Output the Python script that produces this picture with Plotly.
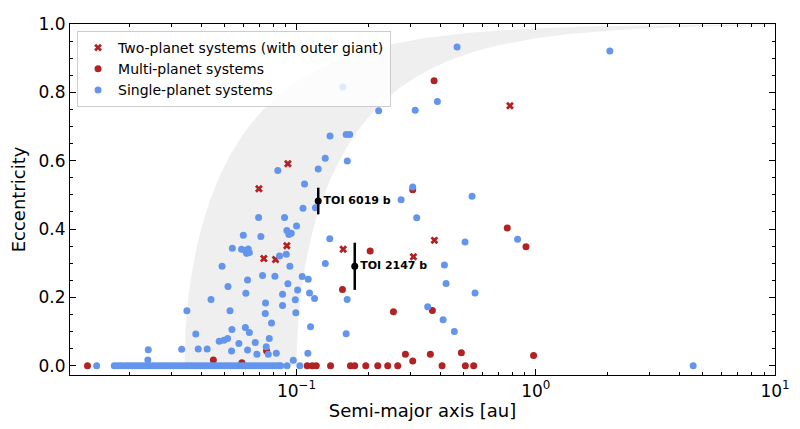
import plotly.graph_objects as go

# single-planet systems (blue dots)
single_a = [0.0146, 0.0173, 0.0178, 0.0183, 0.0188, 0.0194, 0.0199, 0.0205, 0.0211, 0.0217,
            0.0223, 0.0229, 0.0236, 0.0243, 0.0250, 0.0257, 0.0265, 0.0273, 0.0281, 0.0289,
            0.0297, 0.0306, 0.0315, 0.0324, 0.0334, 0.0344, 0.0354, 0.0364, 0.0375, 0.0386,
            0.0397, 0.0409, 0.0421, 0.0433, 0.0446, 0.0459, 0.0472, 0.0486, 0.0500, 0.0515,
            0.0530, 0.0546, 0.0562, 0.0578, 0.0595, 0.0612, 0.0630, 0.0649, 0.0668, 0.0688,
            0.0708, 0.0729, 0.0750, 0.0772, 0.0795, 0.0818, 0.0842, 0.0858, 0.0913, 0.1032, 4.55,
            0.0240, 0.0239, 0.0331, 0.0348, 0.0379, 0.0388, 0.0423, 0.0439, 0.0475, 0.0497,
            0.0515, 0.0488, 0.0517, 0.0527, 0.0537, 0.0535, 0.0539, 0.0574, 0.0589, 0.0611,
            0.0628, 0.0618, 0.0635, 0.0599, 0.0611, 0.0635, 0.0614, 0.0624, 0.0624, 0.0672,
            0.0683, 0.0694, 0.0709, 0.0721, 0.0742, 0.0740, 0.0747, 0.0762, 0.0769, 0.0786,
            0.0812, 0.0823, 0.0835, 0.0849, 0.0874, 0.0874, 0.0891, 0.0906, 0.0911, 0.0929,
            0.0950, 0.0920, 0.0938, 0.0969, 0.0988, 0.0993, 0.1000, 0.1010, 0.1056, 0.1064,
            0.1080, 0.1115, 0.1119, 0.1133, 0.1144, 0.1189, 0.1200, 0.1232, 0.1318, 0.1319,
            0.1377, 0.1380, 0.1612, 0.1668, 0.1630, 0.1628, 0.1612, 0.2204, 0.1561, 0.2736,
            0.3059, 0.3133, 0.3179, 0.3533, 0.3879, 0.4098, 0.4150, 0.4218, 0.4567, 0.4688,
            0.5063, 0.5415, 0.5573, 0.8395, 2.040]
single_e = [0] * 61 + [
            0.047, 0.017, 0.048, 0.161, 0.093, 0.049, 0.049, 0.194, 0.072, 0.075,
            0.080, 0.291, 0.232, 0.161, 0.106, 0.043, 0.344, 0.065, 0.341, 0.337,
            0.342, 0.329, 0.331, 0.382, 0.112, 0.097, 0.212, 0.251, 0.046, 0.068,
            0.034, 0.434, 0.378, 0.264, 0.184, 0.153, 0.056, 0.034, 0.080, 0.125,
            0.262, 0.037, 0.571, 0.321, 0.209, 0.176, 0.434, 0.326, 0.396, 0.384,
            0.388, 0.240, 0.291, 0.016, 0.193, 0.155, 0.409, 0.222, 0.261, 0.461,
            0.532, 0.037, 0.253, 0.213, 0.114, 0.197, 0.462, 0.576, 0.607, 0.299,
            0.372, 0.672, 0.677, 0.677, 0.599, 0.194, 0.094, 0.746, 0.816, 0.486,
            0.523, 0.748, 0.433, 0.173, 0.773, 0.135, 0.295, 0.241, 0.100, 0.933,
            0.362, 0.496, 0.213, 0.370, 0.921]

# multi-planet systems (red dots)
multi_a = [0.01337, 0.0449, 0.0591, 0.0749, 0.1108, 0.1163, 0.1209, 0.1387, 0.1556, 0.168,
           0.175, 0.1947, 0.2031, 0.2185, 0.2405, 0.2541, 0.2648, 0.2852, 0.3059, 0.3059,
           0.3626, 0.3697, 0.3758, 0.4058, 0.4886, 0.5077, 0.5499, 0.760, 0.910, 0.979]
multi_e = [0, 0.017, 0.009, 0.044, 0, 0, 0, 0, 0.223, 0,
           0, 0, 0.336, 0, 0, 0.158, 0, 0.034, 0.515, 0.014,
           0.034, 0.162, 0.834, 0, 0.038, 0, 0, 0.403, 0.348, 0.030]

# two-planet systems with outer giant (red crosses)
two_a = [0.0920, 0.0696, 0.0911, 0.0730, 0.0817, 0.1567, 0.308, 0.377, 0.780]
two_e = [0.591, 0.518, 0.351, 0.314, 0.311, 0.341, 0.319, 0.367, 0.761]

# highlighted planets
toi_names = ["TOI 6019 b", "TOI 2147 b"]
toi_a = [0.1232, 0.1751]
toi_e = [0.482, 0.291]
toi_err = [0.039, 0.069]

# grey band: tracks a(1-e^2)^p = const between two final orbits
band_inner = 0.034
band_outer = 0.1
band_p = 0.92

blue = "#6495ED"
red = "#B22222"
font = "DejaVu Sans"

ecc = [i / 400 for i in range(0, 400)] + [0.999]
left_a = [band_inner / (1 - e * e) ** band_p for e in ecc]
right_a = [band_outer / (1 - e * e) ** band_p for e in ecc]

fig = go.Figure()
fig.add_trace(go.Scatter(x=left_a + right_a[::-1], y=ecc + ecc[::-1], fill="toself",
                         fillcolor="#efefef", line=dict(width=0), mode="lines",
                         showlegend=False, hoverinfo="skip"))

fig.add_trace(go.Scatter(x=multi_a, y=multi_e, mode="markers", name="Multi-planet systems",
                         marker=dict(color=red, size=7), legendrank=2))
fig.add_trace(go.Scatter(x=two_a, y=two_e, mode="markers",
                         name="Two-planet systems (with outer giant)",
                         marker=dict(color=red, size=7, symbol="x"), legendrank=1))
fig.add_trace(go.Scatter(x=single_a, y=single_e, mode="markers", name="Single-planet systems",
                         marker=dict(color=blue, size=7), legendrank=3))

fig.add_trace(go.Scatter(x=toi_a, y=toi_e, mode="markers+text",
                         text=["<b>%s</b>" % n for n in toi_names], textposition="middle right",
                         textfont=dict(family=font, size=11, color="black"),
                         marker=dict(color="black", size=7),
                         error_y=dict(type="data", array=toi_err, color="black", thickness=2.5, width=0),
                         showlegend=False))

minor_x = [k * 10.0 ** d for d in (-2, -1, 0) for k in range(2, 10)]

fig.update_layout(
    width=800, height=429,
    margin=dict(l=70, r=25, t=24, b=54),
    plot_bgcolor="white", paper_bgcolor="white",
    font=dict(family=font, color="black"),
    legend=dict(x=0.01, y=0.98, xanchor="left", yanchor="top",
                bgcolor="rgba(255,255,255,0.8)", bordercolor="#cccccc", borderwidth=1,
                font=dict(size=14), traceorder="normal", tracegroupgap=0),
    xaxis=dict(type="log", range=[-1.947, 1.0], showgrid=False, zeroline=False, automargin=False,
               showline=True, linecolor="black", linewidth=1.2, mirror="ticks",
               ticks="inside", ticklen=6, tickwidth=1, tickcolor="black",
               tickvals=[0.1, 1, 10], ticktext=["10<sup>−1</sup>", "10<sup>0</sup>", "10<sup>1</sup>"],
               tickfont=dict(size=17),
               minor=dict(ticks="inside", ticklen=3, tickcolor="black", tickvals=minor_x),
               title=dict(text="Semi-major axis [au]", font=dict(size=18), standoff=4)),
    yaxis=dict(range=[-0.027, 1.0], showgrid=False, zeroline=False, automargin=False,
               showline=True, linecolor="black", linewidth=1.2, mirror="ticks",
               ticks="inside", ticklen=6, tickwidth=1, tickcolor="black",
               dtick=0.2, tickformat=".1f", tickfont=dict(size=17),
               minor=dict(ticks="inside", ticklen=3, tickcolor="black", dtick=0.05),
               title=dict(text="Eccentricity", font=dict(size=18), standoff=8)),
)

# drop the default page margin so the figure sits at the window corner
fig.write_html("out.html", config={"displayModeBar": False},
               post_script="document.body.style.margin='0px';")
